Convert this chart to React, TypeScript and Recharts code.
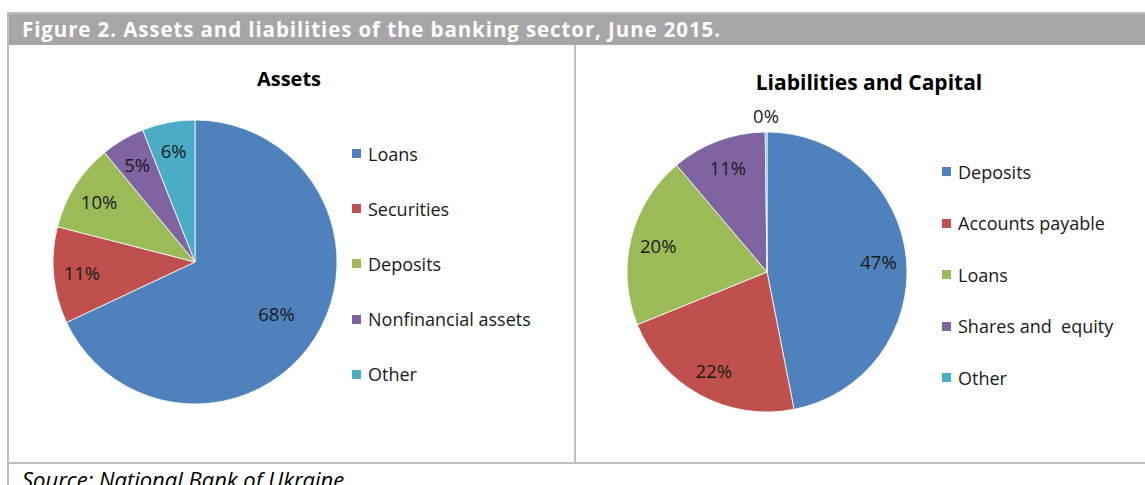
import React from 'react';
import { PieChart, Pie, Cell, Legend } from 'recharts';

const assetCategories = ['Loans', 'Securities', 'Deposits', 'Nonfinancial assets', 'Other'];
const assetValues = [68, 11, 10, 5, 6];
const liabilityCategories = ['Deposits', 'Accounts payable', 'Loans', 'Shares and  equity', 'Other'];
const liabilityValues = [47, 22, 20, 11, 0.2];
const sliceColors = ['#4F81BD', '#C0504D', '#9BBB59', '#8064A2', '#4BACC6'];

const figureTitle = 'Figure 2. Assets and liabilities of the banking sector, June 2015.';
const assetsTitle = 'Assets';
const liabilitiesTitle = 'Liabilities and Capital';
const sourceText = 'Source: National Bank of Ukraine';

const assetData = assetCategories.map((name, i) => ({ name, value: assetValues[i] }));
const liabilityData = liabilityCategories.map((name, i) => ({ name, value: liabilityValues[i] }));

const FONT = '"Open Sans", Lato, sans-serif';
const RAD = Math.PI / 180;
const LINE = '#bfbfbf';

function makeLabel(total: number) {
  return (props: any) => {
    const { cx, cy, midAngle, outerRadius, value } = props;
    const pct = value / total;
    let r = outerRadius * (pct > 0.6 ? 0.68 : 0.8);
    if (pct < 0.01) r = outerRadius + 17;
    const x = cx + r * Math.cos(-midAngle * RAD);
    const y = cy + r * Math.sin(-midAngle * RAD);
    return (
      <text x={x} y={y} textAnchor="middle" dominantBaseline="central" fill="#1a1a1a" fontSize={18.5} fontFamily={FONT}>
        {Math.round(pct * 100)}%
      </text>
    );
  };
}

function legendContent(names: string[], rowHeight: number) {
  return () => (
    <div style={{ fontFamily: FONT }}>
      {names.map((name, i) => (
        <div key={i} style={{ height: rowHeight, display: 'flex', alignItems: 'center', whiteSpace: 'pre' }}>
          <span style={{ display: 'inline-block', width: 9, height: 9, background: sliceColors[i], marginRight: 7 }} />
          <span style={{ fontSize: 18, color: '#1a1a1a' }}>{name}</span>
        </div>
      ))}
    </div>
  );
}

const total = (arr: number[]) => arr.reduce((a, b) => a + b, 0);

export default function App() {
  return (
    <div style={{ position: 'absolute', left: 0, top: 0, width: 1145, height: 485, overflow: 'hidden', background: '#fff', fontFamily: FONT }}>
      {/* header bar */}
      <div style={{ position: 'absolute', left: 7, top: 12, width: 1138, height: 33, background: '#a6a6a6', borderTop: `2px solid ${LINE}`, boxSizing: 'border-box' }} />
      <div style={{ position: 'absolute', left: 22, top: 13, height: 33, lineHeight: '33px', color: '#fff', fontWeight: 700, fontSize: 20.5, letterSpacing: 0.9, whiteSpace: 'nowrap' }}>
        {figureTitle}
      </div>
      {/* frame lines */}
      <div style={{ position: 'absolute', left: 7, top: 12, width: 2, height: 473, background: LINE }} />
      <div style={{ position: 'absolute', left: 574, top: 45, width: 2, height: 418, background: LINE }} />
      <div style={{ position: 'absolute', left: 7, top: 462, width: 1138, height: 2, background: LINE }} />

      {/* left chart */}
      <div style={{ position: 'absolute', left: 0, top: 0, width: 574, height: 462 }}>
        <PieChart width={574} height={462} margin={{ top: 0, right: 0, bottom: 0, left: 0 }}>
          <Pie
            data={assetData}
            dataKey="value"
            nameKey="name"
            cx={195}
            cy={262}
            outerRadius={142}
            startAngle={90}
            endAngle={-270}
            stroke="#ffffff"
            strokeWidth={0.8}
            labelLine={false}
            label={makeLabel(total(assetValues))}
            isAnimationActive={false}
          >
            {assetData.map((d, i) => (
              <Cell key={d.name} fill={sliceColors[i]} />
            ))}
          </Pie>
          <Legend
            layout="vertical"
            itemSorter={null as any}
            content={legendContent(assetCategories, 55.2)}
            wrapperStyle={{ position: 'absolute', left: 352, top: 126, width: 218 }}
          />
        </PieChart>
      </div>
      <div style={{ position: 'absolute', left: 189, top: 65, width: 200, textAlign: 'center', fontWeight: 700, fontSize: 20, color: '#000' }}>
        {assetsTitle}
      </div>

      {/* right chart */}
      <div style={{ position: 'absolute', left: 576, top: 0, width: 569, height: 462 }}>
        <PieChart width={569} height={462} margin={{ top: 0, right: 0, bottom: 0, left: 0 }}>
          <Pie
            data={liabilityData}
            dataKey="value"
            nameKey="name"
            cx={191}
            cy={272}
            outerRadius={140}
            startAngle={90}
            endAngle={-270}
            stroke="#ffffff"
            strokeWidth={0.8}
            labelLine={false}
            label={makeLabel(total(liabilityValues))}
            isAnimationActive={false}
          >
            {liabilityData.map((d, i) => (
              <Cell key={d.name} fill={sliceColors[i]} />
            ))}
          </Pie>
          <Legend
            layout="vertical"
            itemSorter={null as any}
            content={legendContent(liabilityCategories, 51.5)}
            wrapperStyle={{ position: 'absolute', left: 366, top: 146, width: 200 }}
          />
        </PieChart>
      </div>
      <div style={{ position: 'absolute', left: 699, top: 68, width: 340, textAlign: 'center', fontWeight: 700, fontSize: 21, color: '#000' }}>
        {liabilitiesTitle}
      </div>

      {/* source */}
      <div style={{ position: 'absolute', left: 22, top: 464, fontStyle: 'italic', fontSize: 22, color: '#000', whiteSpace: 'nowrap' }}>
        {sourceText}
      </div>
    </div>
  );
}
